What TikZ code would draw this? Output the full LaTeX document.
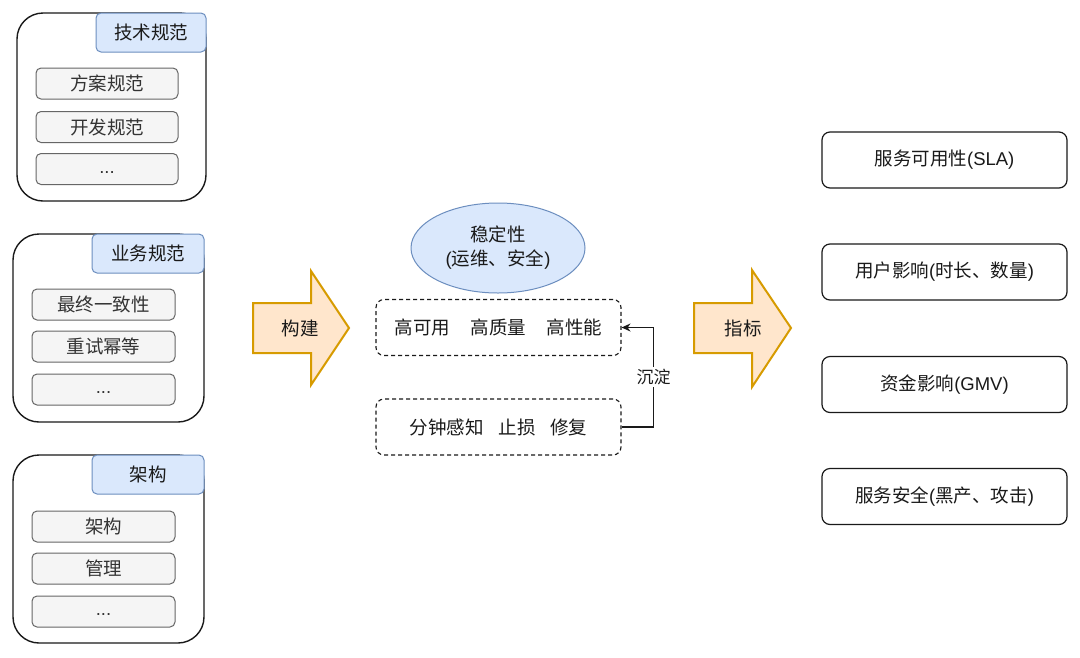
\documentclass[tikz,border=0pt]{standalone}
\usepackage{fontspec}
\setmainfont{Noto Sans CJK SC}
\newfontfamily\lat{Liberation Sans}
\usetikzlibrary{shapes.geometric,arrows.meta}
\definecolor{hdrfill}{HTML}{DAE8FC}
\definecolor{hdrline}{HTML}{6C8EBF}
\definecolor{itemfill}{HTML}{F5F5F5}
\definecolor{itemline}{HTML}{666666}
\definecolor{arrfill}{HTML}{FFE6CC}
\definecolor{arrline}{HTML}{D79B00}
\definecolor{ink}{HTML}{1A1A1A}
\definecolor{itemtext}{HTML}{333333}
\tikzset{
  txt/.style={font=\fontsize{18.5}{22}\selectfont},
  group/.style={draw=ink, line width=1.4pt, rounded corners=26pt, fill=white, inner sep=0pt},
  header/.style={txt, draw=hdrline, fill=hdrfill, line width=1pt, rounded corners=5pt, inner sep=0pt, text=ink},
  item/.style={txt, draw=itemline, fill=itemfill, line width=1pt, rounded corners=5pt, inner sep=0pt, minimum width=142pt, minimum height=31pt, text=itemtext},
  bigarrow/.style={draw=arrline, fill=arrfill, line width=2pt, line join=miter},
  arrlabel/.style={txt, text=ink},
  metric/.style={txt, draw=ink, line width=1.2pt, rounded corners=8pt, fill=white, inner sep=0pt, minimum width=245pt, minimum height=56pt, text=ink},
  dashbox/.style={txt, draw=ink, line width=1.1pt, dash pattern=on 4pt off 3pt, rounded corners=8pt, inner sep=0pt, minimum width=245pt, minimum height=56pt, text=ink},
  conn/.style={draw=ink, line width=1.2pt, -{Stealth[length=9pt,width=8pt]}},
}
\begin{document}
\begin{tikzpicture}[x=1pt,y=-1pt]
\useasboundingbox (0,0) rectangle (1080,657);
\fill[white] (0,0) rectangle (1080,657);

% Group 1
\node[group, minimum width=189pt, minimum height=188pt] (g1) at (111.5,107) {};
\node[header, minimum width=110pt, minimum height=39pt] (h1) at (151,32.5) {技术规范};
\node[item] (i11) at (107,83.5) {方案规范};
\node[item] (i12) at (107,127) {开发规范};
\node[item] (i13) at (107,169) {\lat\strut ...};

% Group 2
\node[group, minimum width=191pt, minimum height=188pt] (g2) at (108.5,328) {};
\node[header, minimum width=112pt, minimum height=39pt] (h2) at (148,253.5) {业务规范};
\node[item, minimum width=143pt] (i21) at (103.5,304.5) {最终一致性};
\node[item, minimum width=143pt] (i22) at (103.5,346.5) {重试幂等};
\node[item, minimum width=143pt] (i23) at (103.5,389.5) {\lat\strut ...};

% Group 3
\node[group, minimum width=191pt, minimum height=188pt] (g3) at (108.5,549) {};
\node[header, minimum width=112pt, minimum height=39pt] (h3) at (148,474.5) {架构};
\node[item, minimum width=143pt] (i31) at (103.5,526.5) {架构};
\node[item, minimum width=143pt] (i32) at (103.5,568.5) {管理};
\node[item, minimum width=143pt] (i33) at (103.5,611.5) {\lat\strut ...};

% Arrow 构建
\draw[bigarrow] (253,303) -- (311,303) -- (311,271) -- (349,328) -- (311,385) -- (311,353) -- (253,353) -- cycle;
\node[arrlabel] (a1) at (300,328) {构建};

% Center
\node[ellipse, draw=hdrline, fill=hdrfill, line width=1pt, minimum width=174pt, minimum height=90pt, inner sep=0pt, align=center, font=\fontsize{18.5}{24}\selectfont, text=ink] (st) at (498,248) {\rule{0pt}{8pt}稳定性\\{\lat(}运维、安全{\lat)}};
\node[dashbox] (d1) at (498.5,327.5) {高可用\hspace{1.1em}高质量\hspace{1.1em}高性能};
\node[dashbox] (d2) at (498.5,427) {分钟感知\hspace{0.8em}止损\hspace{0.8em}修复};
\draw[conn] (d2.east) -- ++(32,0) coordinate (k) |- node[pos=0.25, fill=white, inner sep=2pt, font=\fontsize{17}{19}\selectfont, text=ink] (lbl) {沉淀} (d1.east);

% Arrow 指标
\draw[bigarrow] (694,303) -- (752,303) -- (752,270) -- (791,328) -- (752,387) -- (752,353) -- (694,353) -- cycle;
\node[arrlabel] (a2) at (743,328) {指标};

% Metrics
\node[metric] (m1) at (944.5,160) {服务可用性{\lat(SLA)}};
\node[metric] (m2) at (944.5,272) {用户影响{\lat(}时长、数量{\lat)}};
\node[metric] (m3) at (944.5,384.5) {资金影响{\lat(GMV)}};
\node[metric] (m4) at (944.5,496.5) {服务安全{\lat(}黑产、攻击{\lat)}};
\end{tikzpicture}
\end{document}
